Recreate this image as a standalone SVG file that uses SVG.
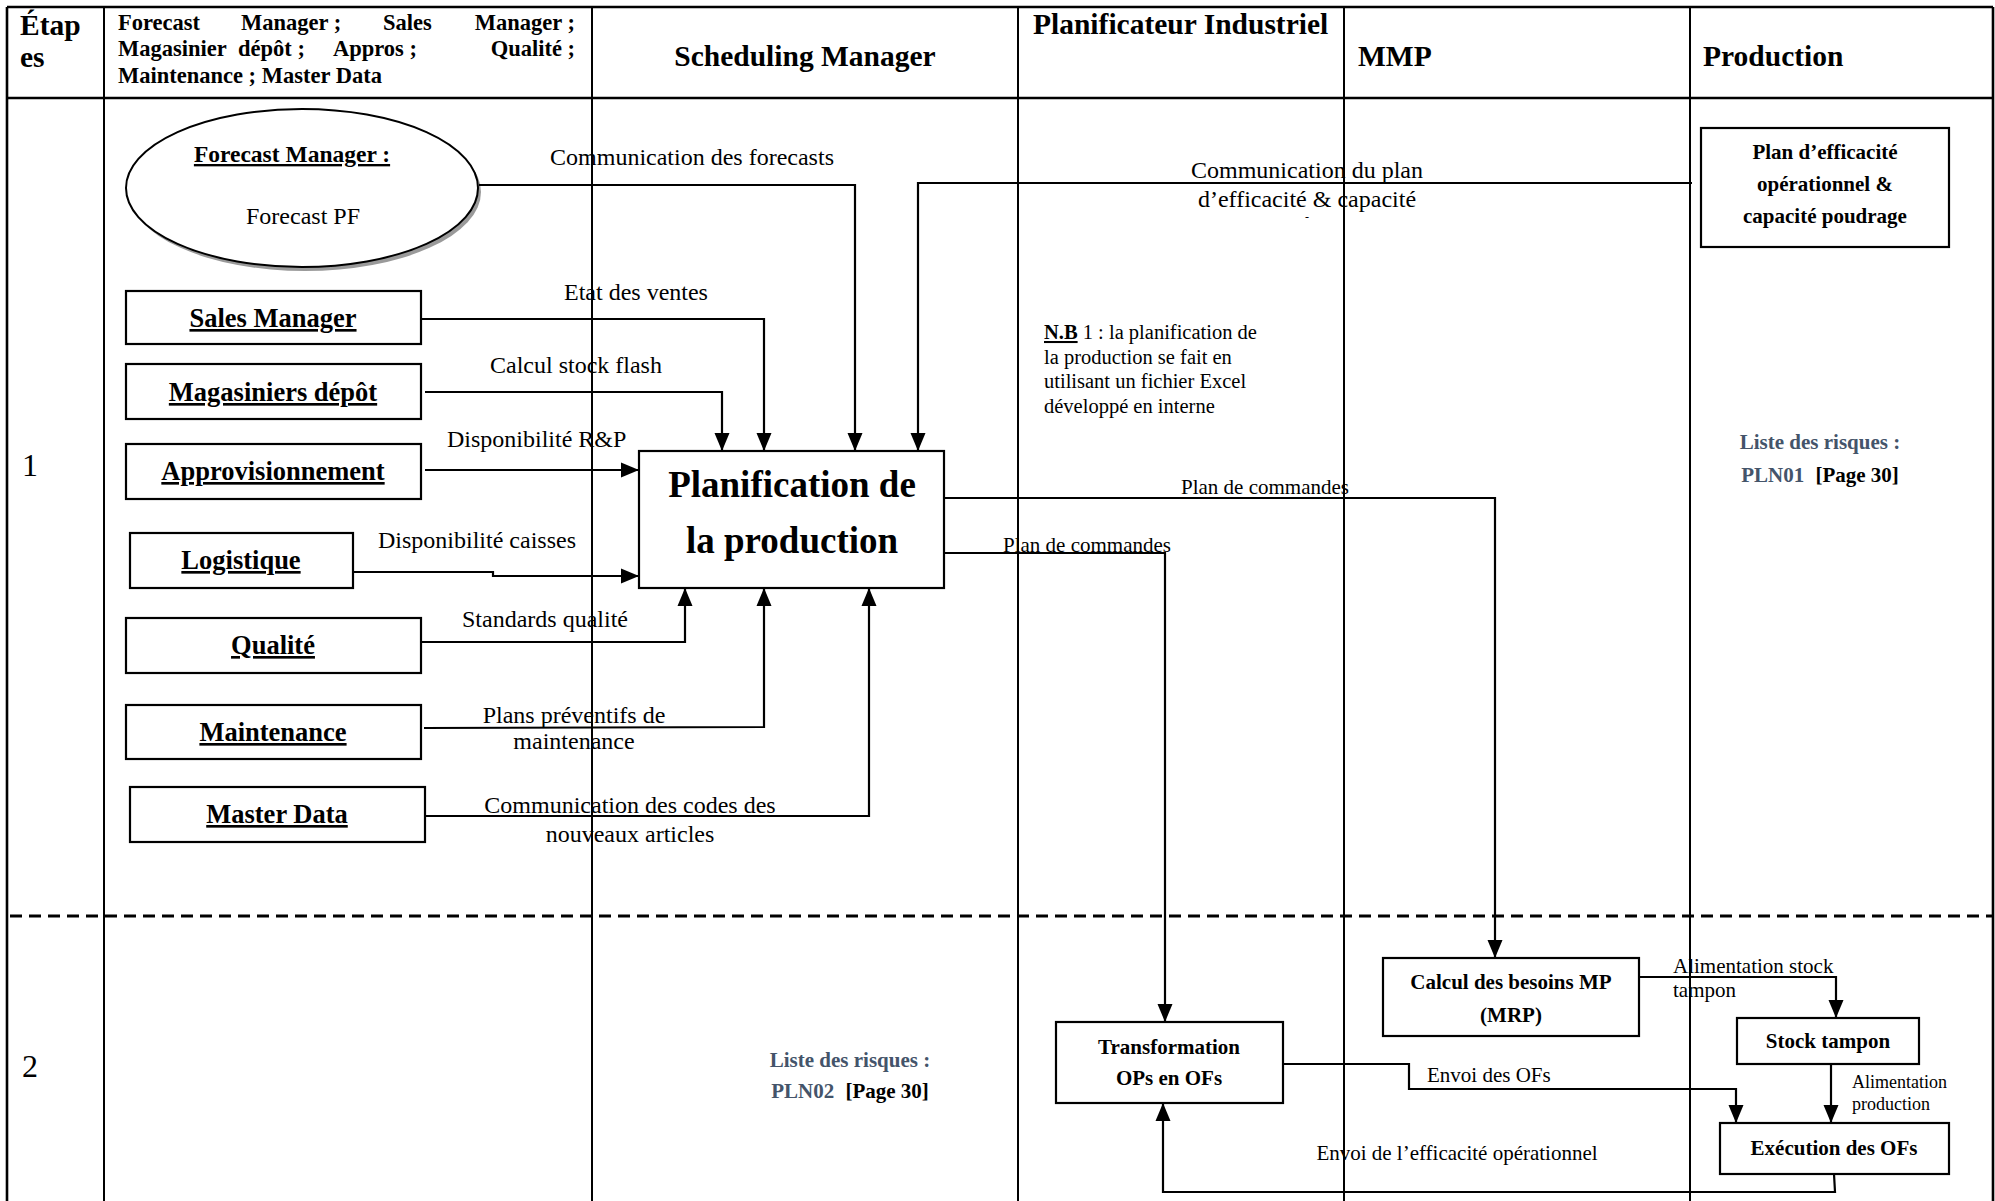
<svg xmlns="http://www.w3.org/2000/svg" width="1995" height="1201" viewBox="0 0 1995 1201">
  <defs>
    <style>
      text { font-family: "Liberation Serif", "Times New Roman", serif; fill: #000; }
      .b { font-weight: bold; }
      .u { text-decoration: underline; }
      .hd { font-size: 29.5px; font-weight: bold; }
      .hd2 { font-size: 22.5px; font-weight: bold; }
      .lbl { font-size: 24px; }
      .lbl2 { font-size: 21px; }
      .actor { font-size: 26.5px; font-weight: bold; text-decoration: underline; }
      .bx { font-size: 21px; font-weight: bold; }
      .risk { font-size: 21px; font-weight: bold; fill: #44546a; }
      .box { fill: #fff; stroke: #000; stroke-width: 2.2; }
      .lane { stroke: #000; stroke-width: 2; fill: none; }
      .frame { stroke: #000; stroke-width: 2.6; fill: none; }
      .conn { fill: none; stroke: #000; stroke-width: 2.2; }
      .arrow { marker-end: url(#ah); }
    </style>
    <marker id="ah" markerUnits="userSpaceOnUse" markerWidth="19" markerHeight="16" refX="18" refY="8" orient="auto">
      <path d="M0,0.5 L18,8 L0,15.5 z" fill="#000"/>
    </marker>
  </defs>

  <rect width="1995" height="1201" fill="#fff"/>

  <!-- swimlane grid -->
  <g id="lanes">
    <line class="frame" x1="7" y1="7" x2="1993" y2="7"/>
    <line class="frame" x1="7" y1="7" x2="7" y2="1201"/>
    <line class="frame" x1="1993" y1="7" x2="1993" y2="1201"/>
    <line class="frame" x1="7" y1="98" x2="1993" y2="98"/>
    <line class="lane" x1="104" y1="7" x2="104" y2="1201"/>
    <line class="lane" x1="592" y1="7" x2="592" y2="1201"/>
    <line class="lane" x1="1018" y1="7" x2="1018" y2="1201"/>
    <line class="lane" x1="1344" y1="7" x2="1344" y2="1201"/>
    <line class="lane" x1="1690" y1="7" x2="1690" y2="1201"/>
    <line x1="10" y1="916" x2="1993" y2="916" stroke="#000" stroke-width="3" stroke-dasharray="12 7"/>
  </g>

  <!-- column headers -->
  <g id="headers">
    <text class="hd" x="20" y="35">Étap</text>
    <text class="hd" x="20" y="67">es</text>
    <text class="hd2" x="118" y="30">Forecast</text>
    <text class="hd2" x="241" y="30">Manager ;</text>
    <text class="hd2" x="383" y="30">Sales</text>
    <text class="hd2" x="575" y="30" text-anchor="end">Manager ;</text>
    <text class="hd2" x="118" y="56">Magasinier</text>
    <text class="hd2" x="238" y="56">dépôt ;</text>
    <text class="hd2" x="333" y="56">Appros ;</text>
    <text class="hd2" x="575" y="56" text-anchor="end">Qualité ;</text>
    <text class="hd2" x="118" y="83">Maintenance ; Master Data</text>
    <text class="hd" x="805" y="66" text-anchor="middle">Scheduling Manager</text>
    <text class="hd" x="1033" y="34">Planificateur Industriel</text>
    <text class="hd" x="1358" y="66">MMP</text>
    <text class="hd" x="1703" y="66">Production</text>
  </g>

  <!-- step numbers -->
  <g id="steps">
    <text x="22" y="476" font-size="32">1</text>
    <text x="22" y="1077" font-size="32">2</text>
  </g>

  <!-- step 1 nodes -->
  <g id="forecast-manager">
    <ellipse cx="305" cy="192" rx="176" ry="79" fill="#9a9a9a"/>
    <ellipse cx="302" cy="188" rx="176" ry="79" fill="#fff" stroke="#000" stroke-width="2"/>
    <text class="b u" x="292" y="162" font-size="23.5" text-anchor="middle">Forecast Manager :</text>
    <text x="303" y="224" font-size="24" text-anchor="middle">Forecast PF</text>
  </g>
  <g id="sales-manager">
    <rect class="box" x="126" y="291" width="295" height="53"/>
    <text class="actor" x="273" y="327" text-anchor="middle">Sales Manager</text>
  </g>
  <g id="magasiniers">
    <rect class="box" x="126" y="364" width="295" height="55"/>
    <text class="actor" x="273" y="401" text-anchor="middle">Magasiniers dépôt</text>
  </g>
  <g id="approvisionnement">
    <rect class="box" x="126" y="444" width="295" height="55"/>
    <text class="actor" x="273" y="480" text-anchor="middle">Approvisionnement</text>
  </g>
  <g id="logistique">
    <rect class="box" x="130" y="533" width="223" height="55"/>
    <text class="actor" x="241" y="569" text-anchor="middle">Logistique</text>
  </g>
  <g id="qualite">
    <rect class="box" x="126" y="618" width="295" height="55"/>
    <text class="actor" x="273" y="654" text-anchor="middle">Qualité</text>
  </g>
  <g id="maintenance">
    <rect class="box" x="126" y="705" width="295" height="54"/>
    <text class="actor" x="273" y="741" text-anchor="middle">Maintenance</text>
  </g>
  <g id="master-data">
    <rect class="box" x="130" y="787" width="295" height="55"/>
    <text class="actor" x="277" y="823" text-anchor="middle">Master Data</text>
  </g>
  <g id="planification">
    <rect class="box" x="639" y="451" width="305" height="137"/>
    <text class="b" x="792" y="497" font-size="37" text-anchor="middle">Planification de</text>
    <text class="b" x="792" y="553" font-size="37" text-anchor="middle">la production</text>
  </g>
  <g id="plan-efficacite">
    <rect class="box" x="1701" y="128" width="248" height="119"/>
    <text class="bx" x="1825" y="159" text-anchor="middle">Plan d’efficacité</text>
    <text class="bx" x="1825" y="191" text-anchor="middle">opérationnel &amp;</text>
    <text class="bx" x="1825" y="223" text-anchor="middle">capacité poudrage</text>
  </g>
  <g id="note">
    <text font-size="20.5" x="1044" y="339"><tspan class="b u">N.B</tspan> 1 : la planification de</text>
    <text font-size="20.5" x="1044" y="364">la production se fait en</text>
    <text font-size="20.5" x="1044" y="388">utilisant un fichier Excel</text>
    <text font-size="20.5" x="1044" y="413">développé en interne</text>
  </g>
  <g id="risques-1">
    <text class="risk" x="1820" y="449" text-anchor="middle">Liste des risques :</text>
    <text class="risk" x="1820" y="482" text-anchor="middle">PLN01 <tspan fill="#000" dx="6">[Page 30]</tspan></text>
  </g>

  <!-- step 2 nodes -->
  <g id="risques-2">
    <text class="risk" x="850" y="1067" text-anchor="middle">Liste des risques :</text>
    <text class="risk" x="850" y="1098" text-anchor="middle">PLN02 <tspan fill="#000" dx="6">[Page 30]</tspan></text>
  </g>
  <g id="mrp">
    <rect class="box" x="1383" y="958" width="256" height="78"/>
    <text class="bx" x="1511" y="989" text-anchor="middle">Calcul des besoins MP</text>
    <text class="bx" x="1511" y="1022" text-anchor="middle">(MRP)</text>
  </g>
  <g id="transformation">
    <rect class="box" x="1056" y="1022" width="227" height="81"/>
    <text class="bx" x="1169" y="1054" text-anchor="middle">Transformation</text>
    <text class="bx" x="1169" y="1085" text-anchor="middle">OPs en OFs</text>
  </g>
  <g id="stock-tampon">
    <rect class="box" x="1737" y="1018" width="182" height="46"/>
    <text class="bx" x="1828" y="1048" text-anchor="middle">Stock tampon</text>
  </g>
  <g id="execution">
    <rect class="box" x="1720" y="1123" width="229" height="51"/>
    <text class="bx" x="1834" y="1155" text-anchor="middle">Exécution des OFs</text>
  </g>

  <!-- connectors -->
  <g id="connectors">
    <polyline class="conn arrow" points="479,185 855,185 855,451"/>
    <polyline class="conn arrow" points="421,319 764,319 764,451"/>
    <polyline class="conn arrow" points="425,392 722,392 722,451"/>
    <polyline class="conn arrow" points="425,470 639,470"/>
    <polyline class="conn arrow" points="353,572 493,572 493,576 639,576"/>
    <polyline class="conn arrow" points="420,642 685,642 685,588"/>
    <polyline class="conn arrow" points="424,728 764,727 764,588"/>
    <polyline class="conn arrow" points="425,816 869,816 869,588"/>
    <polyline class="conn arrow" points="1692,183 918,183 918,451"/>
    <polyline class="conn arrow" points="944,498 1495,498 1495,958"/>
    <polyline class="conn arrow" points="944,553 1165,553 1165,1022"/>
    <polyline class="conn arrow" points="1639,977 1836,977 1836,1018"/>
    <polyline class="conn arrow" points="1831,1064 1831,1123"/>
    <polyline class="conn arrow" points="1283,1064 1409,1064 1409,1089 1736,1089 1736,1123"/>
    <polyline class="conn arrow" points="1834,1174 1835,1192 1163,1192 1163,1103"/>

    <text class="lbl" x="692" y="165" text-anchor="middle">Communication des forecasts</text>
    <text class="lbl" x="564" y="300">Etat des ventes</text>
    <text class="lbl" x="490" y="373">Calcul stock flash</text>
    <text class="lbl" x="447" y="447">Disponibilité R&amp;P</text>
    <text class="lbl" x="378" y="548">Disponibilité caisses</text>
    <text class="lbl" x="462" y="627">Standards qualité</text>
    <text class="lbl" x="574" y="723" text-anchor="middle">Plans préventifs de</text>
    <text class="lbl" x="574" y="749" text-anchor="middle">maintenance</text>
    <text class="lbl" x="630" y="813" text-anchor="middle">Communication des codes des</text>
    <text class="lbl" x="630" y="842" text-anchor="middle">nouveaux articles</text>
    <text class="lbl" x="1307" y="178" text-anchor="middle">Communication du plan</text>
    <text class="lbl" x="1307" y="207" text-anchor="middle">d’efficacité &amp; capacité</text>
    <text x="1307" y="221" font-size="12" text-anchor="middle">-</text>
    <text class="lbl2" x="1181" y="494">Plan de commandes</text>
    <text class="lbl2" x="1003" y="552">Plan de commandes</text>
    <text class="lbl2" x="1673" y="973">Alimentation stock</text>
    <text class="lbl2" x="1673" y="997">tampon</text>
    <text x="1852" y="1088" font-size="18">Alimentation</text>
    <text x="1852" y="1110" font-size="18">production</text>
    <text class="lbl2" x="1427" y="1082">Envoi des OFs</text>
    <text class="lbl2" x="1457" y="1160" text-anchor="middle">Envoi de l’efficacité opérationnel</text>
  </g>
</svg>
